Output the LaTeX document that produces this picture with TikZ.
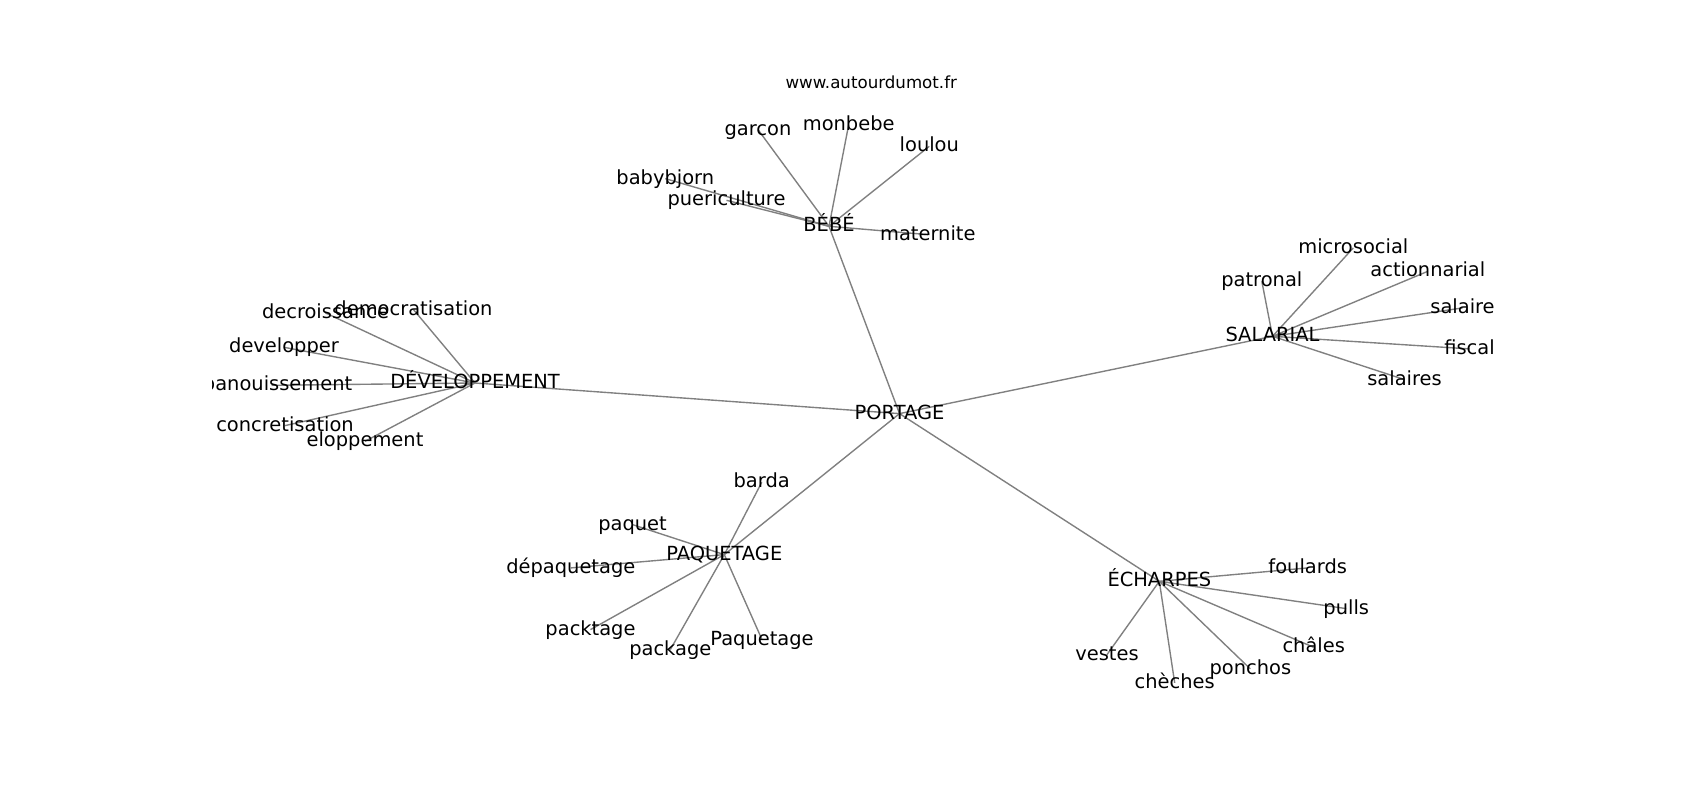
\documentclass[tikz,border=0pt]{standalone}
\usepackage{fontspec}
\setmainfont{DejaVu Sans}
\usetikzlibrary{backgrounds}
\definecolor{edgegray}{HTML}{808080}
\tikzset{
  lbl/.style={inner sep=0pt, anchor=center, text height=0.76em, text depth=0.208em, font=\fontsize{9.72}{11.7}\selectfont},
  ttl/.style={inner sep=0pt, anchor=base, font=\fontsize{8.33}{10}\selectfont},
  edge/.style={draw=edgegray, line width=0.69pt}
}
\begin{document}
\begin{tikzpicture}[x=0.5pt,y=-0.5pt]
\useasboundingbox (0,0) rectangle (1700,800);
\node[ttl] (title) at (871.25,88) {www.autourdumot.fr};
\begin{scope}
\clip (212.5,96) rectangle (1530,712);
% hubs
\node[lbl] (portage) at (899.5,413.6) {PORTAGE};
\node[lbl] (bebe) at (829,226.3) {BÉBÉ};
\node[lbl] (dev) at (475,383) {DÉVELOPPEMENT};
\node[lbl] (salarial) at (1272.5,336.3) {SALARIAL};
\node[lbl] (paquetage) at (724.3,554.6) {PAQUETAGE};
\node[lbl] (echarpes) at (1159.3,581.3) {ÉCHARPES};
% bebe
\node[lbl] (garcon) at (758,129.6) {garcon};
\node[lbl] (monbebe) at (848.7,124.6) {monbebe};
\node[lbl] (loulou) at (929.3,146.3) {loulou};
\node[lbl] (babybjorn) at (665.3,178.6) {babybjorn};
\node[lbl] (puericulture) at (726.5,200.3) {puericulture};
\node[lbl] (maternite) at (927.8,234.6) {maternite};
% developpement
\node[lbl] (democratisation) at (413.5,309.6) {democratisation};
\node[lbl] (decroissance) at (325.5,312.9) {decroissance};
\node[lbl] (developper) at (284,347.3) {developper};
\node[lbl] (epanouissement) at (271.6,385.3) {épanouissement};
\node[lbl] (concretisation) at (285,425.6) {concretisation};
\node[lbl] (eloppement) at (365,441.3) {eloppement};
% salarial
\node[lbl] (microsocial) at (1353.3,247.9) {microsocial};
\node[lbl] (actionnarial) at (1427.8,271.3) {actionnarial};
\node[lbl] (patronal) at (1261.8,281.3) {patronal};
\node[lbl] (salaire) at (1462.5,307.9) {salaire};
\node[lbl] (fiscal) at (1469.5,348.9) {fiscal};
\node[lbl] (salaires) at (1404.5,379.6) {salaires};
% paquetage
\node[lbl] (barda) at (761.7,482.3) {barda};
\node[lbl] (paquet) at (632.5,524.6) {paquet};
\node[lbl] (depaquetage) at (570.8,567.9) {dépaquetage};
\node[lbl] (packtage) at (590.5,629.6) {packtage};
\node[lbl] (package) at (670.3,649.6) {package};
\node[lbl] (Paquetage2) at (762,639.6) {Paquetage};
% echarpes
\node[lbl] (foulards) at (1307.7,567.9) {foulards};
\node[lbl] (pulls) at (1346.2,608.6) {pulls};
\node[lbl] (chales) at (1313.7,647.3) {châles};
\node[lbl] (ponchos) at (1250.3,668.9) {ponchos};
\node[lbl] (cheches) at (1174.7,682.9) {chèches};
\node[lbl] (vestes) at (1107,654.6) {vestes};
\end{scope}
\begin{scope}[on background layer]
\fill[white] (0,0) rectangle (1700,800);
\foreach \a in {bebe,dev,salarial,paquetage,echarpes}
  \draw[edge] (portage.center) -- (\a.center);
\foreach \a in {garcon,monbebe,loulou,babybjorn,puericulture,maternite}
  \draw[edge] (bebe.center) -- (\a.center);
\foreach \a in {democratisation,decroissance,developper,epanouissement,concretisation,eloppement}
  \draw[edge] (dev.center) -- (\a.center);
\foreach \a in {microsocial,actionnarial,patronal,salaire,fiscal,salaires}
  \draw[edge] (salarial.center) -- (\a.center);
\foreach \a in {barda,paquet,depaquetage,packtage,package,Paquetage2}
  \draw[edge] (paquetage.center) -- (\a.center);
\foreach \a in {foulards,pulls,chales,ponchos,cheches,vestes}
  \draw[edge] (echarpes.center) -- (\a.center);
\end{scope}
\end{tikzpicture}
\end{document}
